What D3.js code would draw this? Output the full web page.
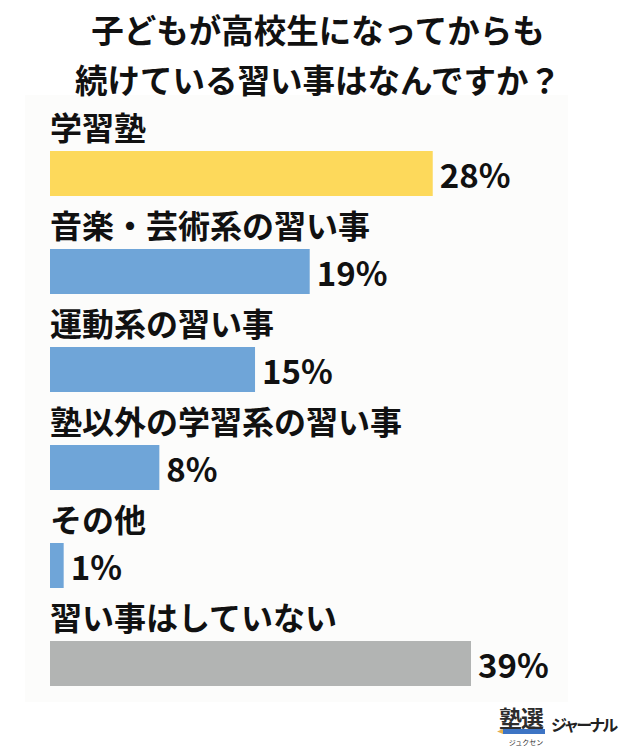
<!DOCTYPE html>
<html>
<head>
<meta charset="utf-8">
<script src="https://cdn.jsdelivr.net/npm/d3@7"></script>
<style>
  html, body { margin: 0; padding: 0; background: #ffffff; }
  svg { display: block; font-family: "Noto Sans CJK JP", "Noto Sans", sans-serif; }
</style>
</head>
<body>
<div id="chart"></div>
<script>
// ---- data ----
const titleLines = ["子どもが高校生になってからも", "続けている習い事はなんですか？"];
const categories = ["学習塾", "音楽・芸術系の習い事", "運動系の習い事", "塾以外の学習系の習い事", "その他", "習い事はしていない"];
const values = [28, 19, 15, 8, 1, 39];
const valueLabels = ["28%", "19%", "15%", "8%", "1%", "39%"];
const barColors = ["#FDD95B", "#6FA5D8", "#6FA5D8", "#6FA5D8", "#6FA5D8", "#B2B4B3"];

// ---- layout ----
const W = 640, H = 750;
const svg = d3.select("#chart").append("svg").attr("width", W).attr("height", H);

svg.append("rect").attr("x", 0).attr("y", 0).attr("width", W).attr("height", H).attr("fill", "#ffffff");
// faint panel
svg.append("rect").attr("x", 25).attr("y", 95).attr("width", 543).attr("height", 607).attr("fill", "#fcfcfb");

// title
svg.append("g").selectAll("text").data(titleLines).join("text")
  .attr("x", 318)
  .attr("y", (d, i) => 28 + i * 50)
  .attr("text-anchor", "middle")
  .attr("dominant-baseline", "central")
  .attr("font-size", 32.5)
  .attr("font-weight", 700)
  .attr("fill", "#111")
  .text(d => d);

const x = d3.scaleLinear().domain([0, 30.8]).range([0, 421]).clamp(true);
const y = d3.scalePoint().domain(categories).range([151, 641]);
const barH = 45;
const x0 = 50;

const rows = svg.append("g").selectAll("g").data(categories).join("g");

rows.append("text")
  .attr("x", x0)
  .attr("y", d => y(d) - 25)
  .attr("dominant-baseline", "central")
  .attr("font-size", 32)
  .attr("font-weight", 700)
  .attr("fill", "#111")
  .text(d => d);

rows.append("rect")
  .attr("x", x0)
  .attr("y", d => y(d))
  .attr("width", (d, i) => x(values[i]))
  .attr("height", barH)
  .attr("fill", (d, i) => barColors[i]);

rows.append("text")
  .attr("x", (d, i) => x0 + x(values[i]) + 7)
  .attr("y", d => y(d) + barH / 2)
  .attr("dominant-baseline", "central")
  .attr("font-size", 33)
  .attr("font-weight", 700)
  .attr("fill", "#111")
  .text((d, i) => valueLabels[i]);

// logo
const logo = svg.append("g");
logo.append("text").attr("x", 499).attr("y", 727).attr("font-size", 23).attr("font-weight", 700)
  .attr("fill", "#2d2d2d").attr("letter-spacing", -1).text("塾選");
logo.append("rect").attr("x", 503).attr("y", 729).attr("width", 42).attr("height", 5).attr("fill", "#3D74C4");
logo.append("path").attr("d", "M503,729 L497,731.5 L503,734 Z").attr("fill", "#E8B04A");
logo.append("text").attr("x", 526).attr("y", 745).attr("text-anchor", "middle").attr("font-size", 7)
  .attr("fill", "#333").text("ジュクセン");
logo.append("text").attr("x", 551).attr("y", 731).attr("font-size", 16).attr("font-weight", 700)
  .attr("fill", "#222").attr("letter-spacing", -3).text("ジャーナル");
</script>
</body>
</html>
